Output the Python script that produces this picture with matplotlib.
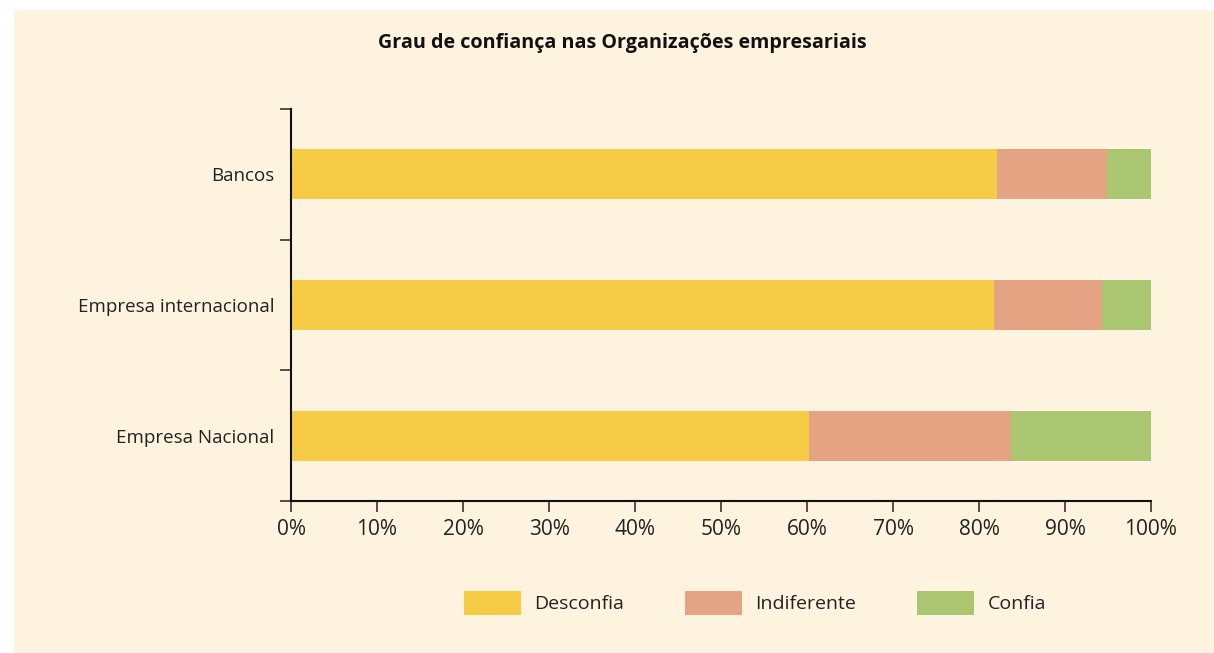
import matplotlib
matplotlib.use('Agg')
import matplotlib.pyplot as plt
from matplotlib.patches import Rectangle

# data (percent of respondents)
categories = ['Empresa Nacional', 'Empresa internacional', 'Bancos']
desconfia = [60.2, 81.7, 82.1]
indiferente = [23.5, 12.6, 12.8]
confia = [16.3, 5.7, 5.1]
series_names = ['Desconfia', 'Indiferente', 'Confia']
colors = ['#F6CB45', '#E4A383', '#AAC671']
bg = '#FEF3DF'

plt.rcParams['font.family'] = ['Open Sans', 'DejaVu Sans']

W, H = 1214, 653
fig = plt.figure(figsize=(W / 100, H / 100), dpi=100, facecolor='white')
# cream panel behind everything
fig.patches.append(Rectangle((14 / W, 0), 1, 1 - 10 / H,
                             transform=fig.transFigure, facecolor=bg,
                             edgecolor='none', zorder=-1))

ax = fig.add_axes([291 / W, 1 - 501 / H, (1151 - 291) / W, (501 - 109) / H])
ax.set_facecolor('none')
ax.set_zorder(2)

y = range(len(categories))
left = [0] * len(categories)
for vals, name, c in zip([desconfia, indiferente, confia], series_names, colors):
    ax.barh(y, vals, left=left, height=0.385, color=c, label=name, edgecolor='none')
    left = [l + v for l, v in zip(left, vals)]

ax.set_xlim(0, 100)
ax.set_ylim(-0.5, 2.5)
ax.set_xticks(range(0, 101, 10))
ax.set_xticklabels([f'{t}%' for t in range(0, 101, 10)])
ax.set_yticks([0, 1, 2])
ax.set_yticklabels(categories)
ax.set_yticks([-0.5, 0.5, 1.5, 2.5], minor=True)
ax.tick_params(axis='y', which='major', length=0, pad=12, labelsize=13.5, labelcolor='#222222')
ax.tick_params(axis='y', which='minor', length=8, width=1.2, color='#333333')
ax.tick_params(axis='x', length=8, width=1.2, color='#333333', labelsize=15,
               labelcolor='#222222', pad=5)

for s in ['top', 'right']:
    ax.spines[s].set_visible(False)
for s in ['left', 'bottom']:
    ax.spines[s].set_linewidth(1.5)
    ax.spines[s].set_color('#111111')

fig.text(622 / W, 1 - 43 / H, 'Grau de confiança nas Organizações empresariais',
         ha='center', va='center', fontsize=14.2, fontweight='bold', color='#111111')

handles, labels = ax.get_legend_handles_labels()
fig.legend(handles, labels, loc='center', bbox_to_anchor=(755 / W, 1 - 603 / H),
           ncol=3, frameon=False, fontsize=14, handlelength=2.9, handleheight=1.6,
           handletextpad=0.7, columnspacing=3.15, labelcolor='#222222')

fig.savefig('out.png', dpi=100, facecolor='white')
